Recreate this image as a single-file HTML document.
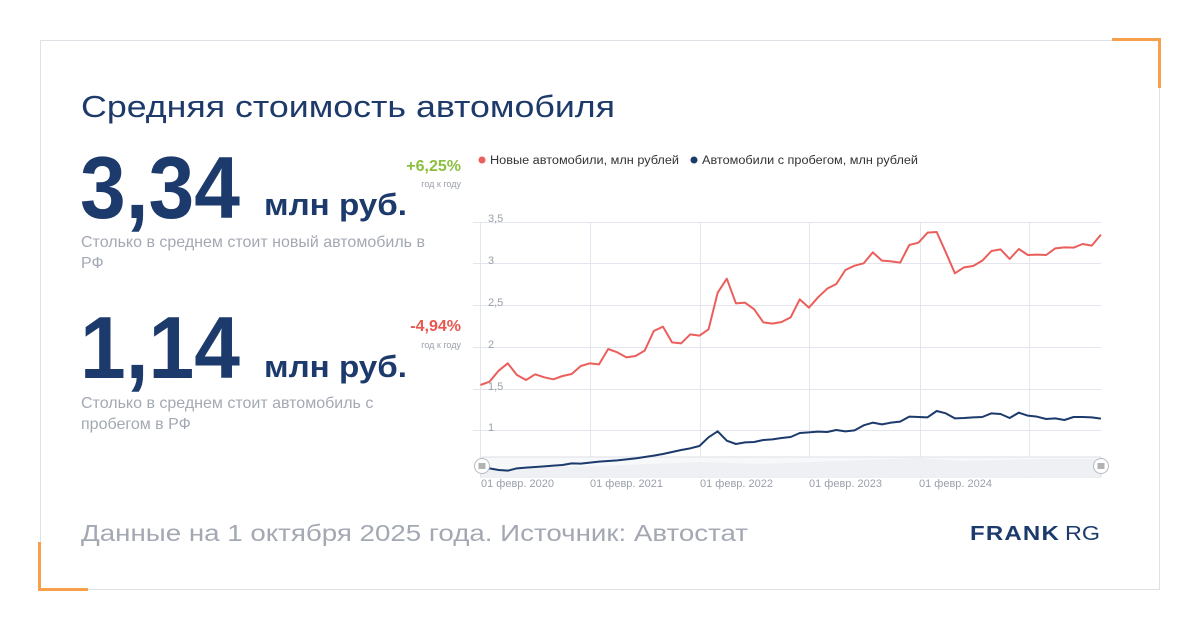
<!DOCTYPE html>
<html><head><meta charset="utf-8"><style>
html,body{margin:0;padding:0;background:#fff;}
svg{display:block;font-family:"Liberation Sans",sans-serif;}
</style></head><body>
<svg width="1200" height="630" viewBox="0 0 1200 630">
<rect x="0" y="0" width="1200" height="630" fill="#fff"/>
<rect x="40.5" y="40.5" width="1119" height="549" fill="#fff" stroke="#dfe1e6" stroke-width="1"/>
<path d="M1112 39.5H1159.5V88" fill="none" stroke="#f7a04b" stroke-width="3"/>
<path d="M39.5 542V589.5H88" fill="none" stroke="#f7a04b" stroke-width="3"/>

<text x="81" y="117" font-size="31" fill="#1d3a6a" textLength="534" lengthAdjust="spacingAndGlyphs">Средняя стоимость автомобиля</text>

<text x="80" y="218" font-size="88" font-weight="bold" fill="#1c3a6b" textLength="160" lengthAdjust="spacingAndGlyphs">3,34</text>
<text x="264" y="215" font-size="31" font-weight="bold" fill="#1c3a6b" textLength="143" lengthAdjust="spacingAndGlyphs">млн руб.</text>
<text x="461" y="171" font-size="16" font-weight="bold" fill="#8cbf3f" text-anchor="end">+6,25%</text>
<text x="461" y="187" font-size="9" fill="#9aa0aa" text-anchor="end">год к году</text>
<text x="81" y="247" font-size="16" fill="#a3a8b3">Столько в среднем стоит новый автомобиль в</text>
<text x="81" y="268" font-size="16" fill="#a3a8b3">РФ</text>

<text x="80" y="378" font-size="88" font-weight="bold" fill="#1c3a6b" textLength="160" lengthAdjust="spacingAndGlyphs">1,14</text>
<text x="264" y="377" font-size="31" font-weight="bold" fill="#1c3a6b" textLength="143" lengthAdjust="spacingAndGlyphs">млн руб.</text>
<text x="461" y="331" font-size="16" font-weight="bold" fill="#e8574f" text-anchor="end">-4,94%</text>
<text x="461" y="348" font-size="9" fill="#9aa0aa" text-anchor="end">год к году</text>
<text x="81" y="408" font-size="16" fill="#a3a8b3">Столько в среднем стоит автомобиль с</text>
<text x="81" y="429" font-size="16" fill="#a3a8b3">пробегом в РФ</text>

<text x="81" y="541" font-size="23" fill="#a3a8b3" textLength="667" lengthAdjust="spacingAndGlyphs">Данные на 1 октября 2025 года. Источник: Автостат</text>
<text x="970" y="540" font-size="20" font-weight="bold" fill="#1c3a6b" textLength="90" lengthAdjust="spacingAndGlyphs" letter-spacing="1">FRANK</text>
<text x="1065" y="540" font-size="20" fill="#1c3a6b" textLength="35" lengthAdjust="spacingAndGlyphs">RG</text>

<!-- legend -->
<circle cx="482" cy="160" r="3.5" fill="#ea5f5b"/>
<text x="490" y="164" font-size="11.5" fill="#333" textLength="189" lengthAdjust="spacingAndGlyphs">Новые автомобили, млн рублей</text>
<circle cx="694" cy="160" r="3.5" fill="#1c3a6b"/>
<text x="702" y="164" font-size="11.5" fill="#333" textLength="216" lengthAdjust="spacingAndGlyphs">Автомобили с пробегом, млн рублей</text>

<!-- grid -->
<g stroke="#e3e6ef" stroke-width="1">
<line x1="473" y1="222.5" x2="1101" y2="222.5"/>
<line x1="473" y1="263.5" x2="1101" y2="263.5"/>
<line x1="473" y1="305.5" x2="1101" y2="305.5"/>
<line x1="473" y1="347.5" x2="1101" y2="347.5"/>
<line x1="473" y1="389.5" x2="1101" y2="389.5"/>
<line x1="473" y1="430.5" x2="1101" y2="430.5"/>
<line x1="480.5" y1="222" x2="480.5" y2="478"/>
<line x1="590.5" y1="222" x2="590.5" y2="478"/>
<line x1="700.5" y1="222" x2="700.5" y2="478"/>
<line x1="809.5" y1="222" x2="809.5" y2="478"/>
<line x1="920.5" y1="222" x2="920.5" y2="478"/>
<line x1="1029.5" y1="222" x2="1029.5" y2="478"/>
</g>
<g font-size="11" fill="#9aa0aa">
<text x="488" y="222">3,5</text>
<text x="488" y="264">3</text>
<text x="488" y="306">2,5</text>
<text x="488" y="348">2</text>
<text x="488" y="390">1,5</text>
<text x="488" y="431">1</text>
<text x="481" y="487">01 февр. 2020</text>
<text x="590" y="487">01 февр. 2021</text>
<text x="700" y="487">01 февр. 2022</text>
<text x="809" y="487">01 февр. 2023</text>
<text x="919" y="487">01 февр. 2024</text>
</g>

<!-- navigator -->
<rect x="482" y="457" width="619" height="20" fill="#f7f8fa" stroke="#dcdfe5" stroke-width="1"/>
<path d="M482 470 L520 468 L600 466 L700 462 L760 464 L840 461 L920 458 L960 461 L1040 459 L1100 459 L1100 477 L482 477 Z" fill="#eef0f3"/>

<g transform="translate(470,200) scale(0.416667,0.333333)" fill="none" stroke-linejoin="round">
<polyline vector-effect="non-scaling-stroke" stroke="#ea5f5b" stroke-width="2" points="25,555 46.9,545 68.8,512 90.7,490 112.6,525 134.5,540 156.4,523 178.3,532 200.2,538 222.1,528 244,522 265.9,498 287.8,490 309.7,493 331.6,447 353.5,457 375.4,472 397.3,468 419.2,452 441.1,393 463,380 484.9,427 506.8,430 528.7,403 550.6,407 572.5,388 594.4,278 616.3,236 638.2,310 660.1,308 682,328 703.9,367 725.8,371 747.7,366 769.6,352 791.5,298 813.4,323 835.3,292 857.2,266 879.1,252 901,210 922.9,197 944.8,190 966.7,157 988.6,182 1010.5,184 1032.4,188 1054.3,135 1076.2,128 1098.1,98 1120,96 1141.9,157 1163.8,220 1185.7,202 1207.6,198 1229.5,182 1251.4,153 1273.3,148 1295.2,177 1317.1,147 1339,165 1360.9,164 1382.8,165 1404.7,145 1426.6,142 1448.5,143 1470.4,132 1492.3,137 1514.2,104"/>
<polyline vector-effect="non-scaling-stroke" stroke="#1c3a6b" stroke-width="2" points="25,810 46.9,805 68.8,810 90.7,812 112.6,805 134.5,803 156.4,801 178.3,799 200.2,797 222.1,795 244,790 265.9,791 287.8,788 309.7,785 331.6,783 353.5,781 375.4,778 397.3,775 419.2,771 441.1,767 463,762 484.9,756 506.8,750 528.7,745 550.6,738 572.5,712 594.4,694 616.3,722 638.2,732 660.1,727 682,726 703.9,720 725.8,718 747.7,714 769.6,711 791.5,699 813.4,697 835.3,695 857.2,696 879.1,690 901,694 922.9,691 944.8,676 966.7,668 988.6,673 1010.5,668 1032.4,665 1054.3,650 1076.2,651 1098.1,652 1120,633 1141.9,640 1163.8,655 1185.7,654 1207.6,652 1229.5,651 1251.4,640 1273.3,642 1295.2,654 1317.1,638 1339,647 1360.9,650 1382.8,657 1404.7,655 1426.6,660 1448.5,651 1470.4,651 1492.3,652 1514.2,656"/>
</g>

<circle cx="482" cy="466" r="7.5" fill="#fff" stroke="#b5b9c2"/>
<path d="M478.5 464h7M478.5 466h7M478.5 468h7" stroke="#666" stroke-width="1"/>
<circle cx="1101" cy="466" r="7.5" fill="#fff" stroke="#b5b9c2"/>
<path d="M1097.5 464h7M1097.5 466h7M1097.5 468h7" stroke="#666" stroke-width="1"/>
</svg>
</body></html>
